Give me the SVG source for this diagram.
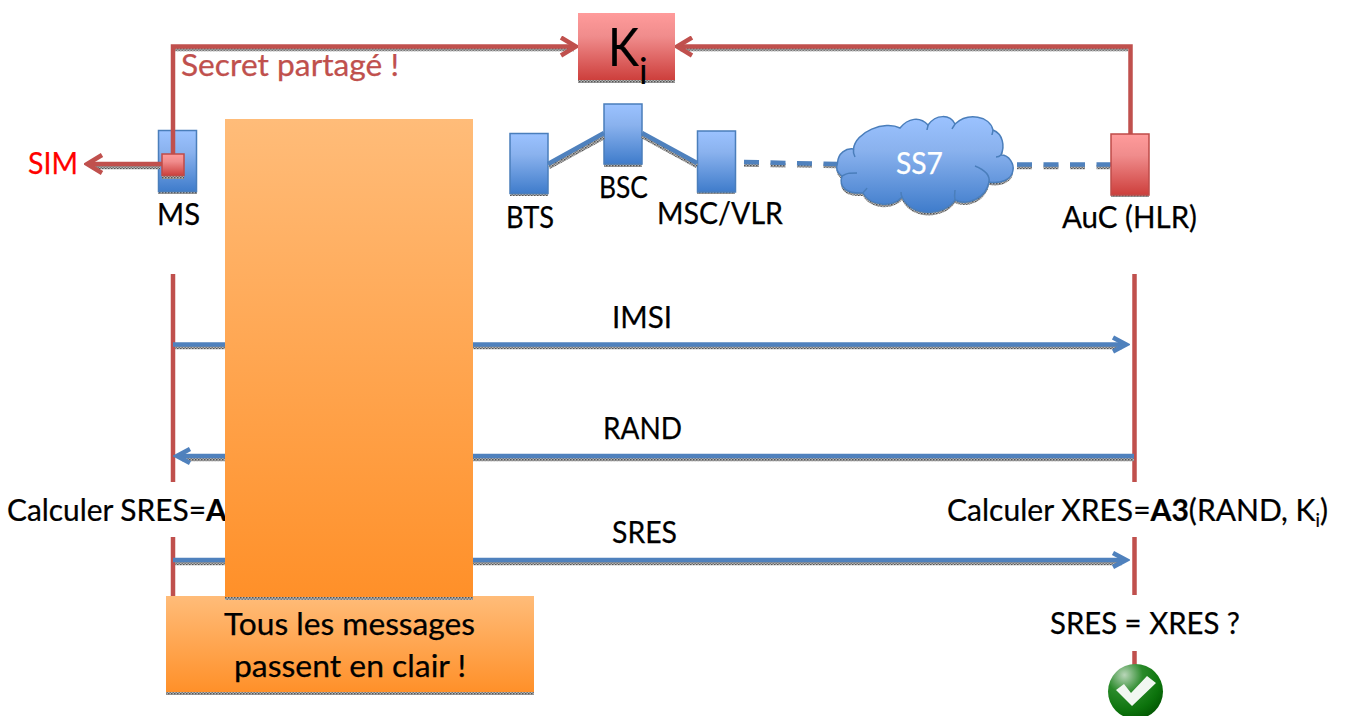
<svg xmlns="http://www.w3.org/2000/svg" width="1346" height="716" viewBox="0 0 1346 716">
<style>
text{font-family:"Lato","Carlito","Noto Sans",sans-serif;font-size:31px;fill:#000;stroke:#000;stroke-width:.25}
.tr{fill:#f00;stroke:#f00}
.ts{fill:#c0504d;stroke:#c0504d}
.tw{fill:#fff;stroke:#fff}
.blue{fill:url(#gBlue);stroke:#4a7ebb;stroke-width:1.5}
.red{fill:url(#gRed);stroke:#be4b48;stroke-width:1.5}
.orange{fill:url(#gOrange)}
.sh{fill:url(#dither)}
.rl{fill:none;stroke:#c0504d;stroke-width:4.5}
.bl{fill:none;stroke:#4f81bd;stroke-width:4.5}
.rs{fill:none;stroke:url(#dither);stroke-width:4.5}
.life{fill:none;stroke:#c0504d;stroke-width:4.5}
.dash{stroke-dasharray:15 11.5}
</style>
<defs>
<pattern id="dither" width="3" height="3" patternUnits="userSpaceOnUse"><rect width="3" height="3" fill="#b5b5b5"/><rect width="1.5" height="1.5" fill="#555"/><rect x="1.5" y="1.5" width="1.5" height="1.5" fill="#777"/></pattern>
<linearGradient id="gBlue" x1="0" y1="0" x2="0" y2="1"><stop offset="0" stop-color="#9bc2ff"/><stop offset="0.35" stop-color="#8ab2ee"/><stop offset="1" stop-color="#3f7ccb"/></linearGradient>
<linearGradient id="gRed" x1="0" y1="0" x2="0" y2="1"><stop offset="0" stop-color="#ff9b9b"/><stop offset="0.35" stop-color="#f08c8c"/><stop offset="1" stop-color="#cd3f3c"/></linearGradient>
<linearGradient id="gOrange" x1="0" y1="0" x2="0" y2="1"><stop offset="0" stop-color="#ffbc79"/><stop offset="1" stop-color="#ff9029"/></linearGradient>
<radialGradient id="gGreen" cx="0.3" cy="0.2" r="0.95"><stop offset="0" stop-color="#b9d6b9"/><stop offset="0.35" stop-color="#2a8a2a"/><stop offset="0.7" stop-color="#0c730c"/><stop offset="1" stop-color="#004d00"/></radialGradient>
<marker id="aRed" markerUnits="userSpaceOnUse" markerWidth="20" markerHeight="22" refX="15" refY="11" orient="auto"><path d="M2 2L17 11L2 20" fill="none" stroke="#c0504d" stroke-width="4.5"/></marker>
<marker id="aBlue" markerUnits="userSpaceOnUse" markerWidth="20" markerHeight="20" refX="14" refY="10" orient="auto"><path d="M3 3L16 10L3 17" fill="none" stroke="#4f81bd" stroke-width="4.5"/></marker>
</defs>

<g id="lifelines">
<path class="life" d="M173 274V482M173 537V600"/>
<path class="life" d="M1134.500 274V482M1134.500 537V595M1134.500 651V668"/>
</g>

<g id="node-ms">
<rect class="sh" x="158" y="190" width="39" height="4"/>
<rect class="blue" x="158.500" y="130.500" width="38" height="61"/>
<text x="157" y="225" textLength="43" lengthAdjust="spacingAndGlyphs">MS</text>
</g>
<g id="node-bts">
<rect class="sh" x="510" y="192" width="38" height="4"/>
<rect class="blue" x="510" y="133.500" width="38" height="60"/>
<text x="506" y="228" textLength="48" lengthAdjust="spacingAndGlyphs">BTS</text>
</g>
<g id="node-bsc">
<rect class="sh" x="604" y="163" width="38" height="4"/>
<rect class="blue" x="604" y="104" width="38" height="60"/>
<text x="599" y="198" textLength="49" lengthAdjust="spacingAndGlyphs">BSC</text>
</g>
<g id="node-msc">
<rect class="sh" x="697" y="190" width="38" height="4"/>
<rect class="blue" x="697.500" y="131" width="38" height="61"/>
<text x="657" y="224" textLength="126" lengthAdjust="spacingAndGlyphs">MSC/VLR</text>
</g>

<g id="connectors">
<path class="rs" d="M175 49H574M680 49H1128"/>
<path class="rl" d="M173 155V46.500H574" marker-end="url(#aRed)"/>
<path class="rl" d="M1130.500 134V46.500H679" marker-end="url(#aRed)"/>
<path class="rs" d="M160 167H92"/>
<path class="rl" d="M162 164H89" marker-end="url(#aRed)"/>
<path class="rs" d="M549 167L604 137M642 136L697 166"/>
<path class="bl" d="M548 164L604 133M642 133L697 163"/>
<path class="rs dash" d="M744 164.500L838 166M1017 167H1110"/>
<path class="bl dash" d="M744 162L838 164"/>
<path class="bl dash" d="M1017 164.500H1111"/>
<path class="rs" d="M175 347H1122"/>
<path class="bl" d="M173 344.500H1124" marker-end="url(#aBlue)"/>
<path class="rs" d="M182 459H1134"/>
<path class="bl" d="M1134 456H179" marker-end="url(#aBlue)"/>
<path class="rs" d="M175 563H1122"/>
<path class="bl" d="M173 560H1124" marker-end="url(#aBlue)"/>
</g>

<g id="node-sim">
<rect class="sh" x="162" y="175" width="22" height="4"/>
<rect class="red" x="162" y="154" width="22" height="21.500"/>
<text class="tr" x="28" y="174" textLength="50" lengthAdjust="spacingAndGlyphs">SIM</text>
</g>
<text id="label-secret" class="ts" x="181" y="76" textLength="218" lengthAdjust="spacingAndGlyphs">Secret partagé !</text>

<g id="node-ki">
<rect class="sh" x="578" y="78" width="97" height="5"/>
<rect x="578" y="13" width="97" height="67" fill="url(#gRed)"/>
<text transform="translate(608 66) scale(.88 1)" style="font-size:53px">K</text>
<text x="639" y="84" style="font-size:36px;stroke-width:0">i</text>
</g>

<g id="node-ss7">
<path class="sh" transform="translate(0 3)" d="M837.500 163C838 153 846 148 853.500 149C855 132 885 120 900 128C908 118 920 116 928 125C936 114 950 114 955 124C968 112 990 116 993 130C1003 134 1005 146 1001 155C1010 155 1014 165 1013 170C1012 180 1000 184 989 182C986 198 968 206 955 200C944 216 912 218 902 197C892 208 870 206 863 193C848 194 838 188 842 176C836 172 836 167 837.500 163Z"/>
<path class="blue" d="M837.500 163C838 153 846 148 853.500 149C855 132 885 120 900 128C908 118 920 116 928 125C936 114 950 114 955 124C968 112 990 116 993 130C1003 134 1005 146 1001 155C1010 155 1014 165 1013 170C1012 180 1000 184 989 182C986 198 968 206 955 200C944 216 912 218 902 197C892 208 870 206 863 193C848 194 838 188 842 176C836 172 836 167 837.500 163Z"/>
<path d="M853.500 149C853 152 854 155 855 157M928 125C928 127 927 129 927 130M955 124C954 126 953 127 952 129M993 130C993 132 992 134 992 135M1001 155C1000 156 998 157 996 157M975 166C985 170 990 176 989 182M955 200C954 195 955 192 955 190M902 197C901 195 901 193 901 192M863 193C864 191 866 190 867 188M842 176C848 173 848 173 857 173" fill="none" stroke="#4a7ebb" stroke-width="1.500"/>
<text class="tw" x="896" y="174" textLength="47" lengthAdjust="spacingAndGlyphs">SS7</text>
</g>

<g id="node-auc">
<rect class="sh" x="1111" y="193" width="38" height="4"/>
<rect class="red" x="1111" y="134" width="38" height="61"/>
<text x="1062" y="228" textLength="135" lengthAdjust="spacingAndGlyphs">AuC (HLR)</text>
</g>

<text id="label-imsi" x="612" y="328" textLength="60" lengthAdjust="spacingAndGlyphs">IMSI</text>
<text id="label-rand" x="603" y="439" textLength="79" lengthAdjust="spacingAndGlyphs">RAND</text>
<text id="label-sres" x="612" y="543" textLength="65" lengthAdjust="spacingAndGlyphs">SRES</text>
<text id="label-calc-sres" transform="translate(7 521) scale(.963 1)">Calculer SRES=<tspan font-weight="700">A</tspan></text>
<text id="label-calc-xres" transform="translate(947 521) scale(.97 1)">Calculer XRES=<tspan font-weight="700">A3</tspan>(RAND, K<tspan dy="6" style="font-size:19px">i</tspan><tspan dy="-6">)</tspan></text>
<text id="label-compare" x="1050" y="634" textLength="190" lengthAdjust="spacingAndGlyphs">SRES = XRES ?</text>

<g id="node-note">
<rect class="sh" x="166" y="690" width="368" height="5"/>
<rect class="orange" x="166" y="596" width="368" height="96"/>
<text x="224" y="635" textLength="251" lengthAdjust="spacingAndGlyphs">Tous les messages</text>
<text x="234" y="677" textLength="232" lengthAdjust="spacingAndGlyphs">passent en clair !</text>
</g>
<g id="node-cover">
<rect class="sh" x="225" y="595" width="248" height="5"/>
<rect class="orange" x="225" y="119" width="248" height="478"/>
</g>

<g id="node-check">
<circle cx="1135.500" cy="691.500" r="27.500" fill="url(#gGreen)"/>
<path d="M1116 690L1124 684L1131 693L1147 676L1156 683L1132 706Z" fill="#f2f7f2"/>
</g>
</svg>
